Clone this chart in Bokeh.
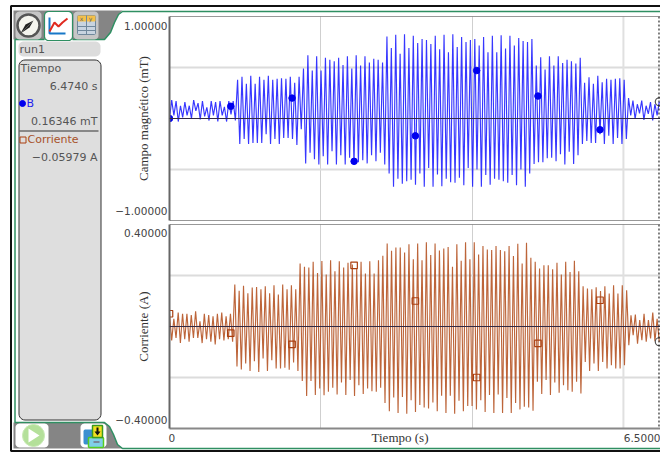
import numpy as np
from bokeh.embed import file_html
from bokeh.resources import INLINE
from bokeh.plotting import figure
from bokeh.models import FixedTicker, Span, Range1d
from bokeh.core.properties import value

# ---------- data ----------
B_values = [0.0,
 .18,.03,.17,-.03,.125,.01,.16,.03,.125,0,.18,.075,.15,-.01,.17,.02,.11,-.02,.17,.03,.16,-.03,.17,.03,.115,-.03,.17,.04,.17,-.02,
 .38,-.25,.41,-.20,.34,-.25,.42,-.24,.34,-.24,.41,-.24,.38,-.155,.42,-.25,.38,-.20,.39,-.25,.395,-.19,.39,-.19,.41,-.20,.35,-.26,.41,-.105,
 .49,-.44,.62,-.335,.47,-.40,.61,-.45,.47,-.37,.595,-.45,.575,-.32,.56,-.45,.595,-.36,.525,-.45,.61,-.385,.49,-.45,.62,-.43,.52,-.41,.61,-.44,.55,-.36,.585,-.42,.575,-.335,.55,-.45,
 .805,-.54,.69,-.67,.82,-.59,.635,-.64,.825,-.615,.69,-.60,.81,-.65,.74,-.54,.78,-.67,.77,-.485,.73,-.67,.81,-.55,.68,-.665,.82,-.59,.65,-.625,.825,-.63,.70,-.58,.80,-.655,.75,-.485,.77,-.67,.78,-.50,.715,-.67,.80,-.555,.65,-.65,.81,-.59,.65,-.60,.815,-.615,.685,-.63,.81,-.555,.715,-.655,.79,-.50,.76,-.67,.75,-.54,.78,-.445,
 .52,-.43,.60,-.43,.48,-.39,.61,-.385,.52,-.42,.61,-.35,.545,-.45,.575,-.325,.56,-.445,.54,-.36,.595,-.25,
 .35,-.22,.405,-.24,.34,-.24,.42,-.155,.355,-.25,.39,-.17,.38,-.25,.39,-.19,.395,-.25,.38,-.20,
 .20,.03,.175,-.005,.14,.05,.175,-.015,.125,.045,.16,-.02,.14,.03,.16346]

I_values = [.05,-.055,.03,-.045,.055,-.065,.05,-.05,.05,-.06,.045,-.045,.06,-.045,.02,-.065,.05,-.05,.045,-.06,.04,-.07,.05,-.05,.055,-.055,.04,-.05,.05,-.06,
 .165,-.157,.14,-.169,.16,-.145,.13,-.174,.153,-.136,.155,-.178,.146,-.125,.158,-.174,.13,-.132,.162,-.165,.125,-.165,.165,-.162,.146,-.17,.162,-.141,.146,-.174,
 .247,-.214,.234,-.273,.231,-.214,.254,-.269,.21,-.243,.257,-.27,
 .204,-.256,.26,-.24,.217,-.267,.256,-.22,.231,-.269,.25,-.21,.243,-.273,.227,-.23,.254,-.265,.208,-.243,.256,-.254,.208,-.256,.26,-.24,.277,-.30,
 .325,-.332,.297,-.278,.31,-.339,.31,-.276,.29,-.342,.323,-.289,.264,-.335,.325,-.308,.26,-.318,.33,-.322,.28,-.298,.325,-.332,.298,-.272,.306,-.339,.312,-.272,.234,-.342,.323,-.291,.258,-.332,.33,-.312,.264,-.312,.33,-.325,.282,-.289,.316,-.335,.302,-.269,.30,-.339,
 .316,-.267,.30,-.339,.295,-.28,.316,-.339,.276,-.30,.324,-.325,.247,-.315,.328,-.318,.27,-.33,
 .254,-.217,.227,-.265,.24,-.21,.24,-.269,.224,-.22,.25,-.26,.204,-.23,.254,-.25,.214,-.256,.258,-.217,.217,-.263,
 .158,-.139,.149,-.174,.146,-.145,.154,-.174,.139,-.139,.158,-.165,.129,-.152,.162,-.165,.129,-.165,.162,-.152,.142,-.073,
 .044,-.034,.047,-.067,.025,-.054,.05,-.06,.025,-.047,.055,-.058,.03,-.0598]

marker_t = [0, .81, 1.62, 2.44, 3.25, 4.06, 4.87, 5.69]
marker_B = [0, .12, .20, -.42, -.17, .47, .22, -.11]
marker_I = [.05, -.026, -.07, .24, .10, -.20, -.066, .103]
last_t = 6.474
last_B = 0.16346
last_I = -0.05979
T_MAX = 6.49

y_ticks_B = [-0.905, 0.905]
y_labels_B = {-0.905: "\u22121.00000", 0.905: "1.00000"}
y_ticks_I = [-0.368, 0.368]
y_labels_I = {-0.368: "\u22120.40000", 0.368: "0.40000"}
x_ticks = [0.03, 6.27]
x_labels = {0.03: "0", 6.27: "6.5000"}

BLUE = "#1414ff"
BROWN = "#b24a18"
GREEN = "#2f8f62"
SANS = "DejaVu Sans"
SERIF = "Liberation Serif"


def place(p, left, top, width, height):
    p.styles = {"position": "absolute", "left": f"{left}px", "top": f"{top}px",
                "width": f"{width}px", "height": f"{height}px"}


def chart(top_px, height, values, markers, last, ymax, ticks, labels, ylabel, color, bottom_pad, mtype):
    p = figure(width=581, height=height, output_backend="svg", toolbar_location=None,
               x_range=Range1d(0, T_MAX), y_range=Range1d(-ymax, ymax),
               min_border_left=90, min_border_right=0, min_border_top=5, min_border_bottom=bottom_pad,
               background_fill_color=None, border_fill_color=None, outline_line_color=None)
    place(p, 79, top_px, 581, height)
    for ax in (p.xaxis[0], p.yaxis[0]):
        ax.major_tick_line_color = None
        ax.minor_tick_line_color = None
    yax = p.yaxis[0]
    yax.ticker = FixedTicker(ticks=ticks)
    yax.major_label_overrides = labels
    yax.major_label_standoff = -4
    yax.major_label_text_font = SANS
    yax.major_label_text_font_size = "10.5px"
    yax.major_label_text_color = "#444444"
    yax.axis_line_color = "#666666"
    yax.axis_line_width = 2
    yax.axis_label = ylabel
    yax.axis_label_text_font = SERIF
    yax.axis_label_text_font_size = "13px"
    yax.axis_label_text_font_style = "normal"
    yax.axis_label_text_color = "#333333"
    yax.axis_label_standoff = -39
    p.xgrid.ticker = FixedTicker(ticks=[2, 4])
    p.ygrid.ticker = FixedTicker(ticks=[-ymax / 2, ymax / 2])
    p.xgrid.grid_line_color = "#cfcfcf"
    p.ygrid.grid_line_color = "#dcdcdc"
    p.ygrid.grid_line_width = 2
    p.add_layout(Span(location=6, dimension="height", line_color="#e0e0e0", line_width=2, level="underlay"))
    t = np.arange(len(values)) * last_t / (len(values) - 1)
    p.line(t, values, line_color=color, line_width=1.15, line_alpha=0.85)
    p.add_layout(Span(location=0, dimension="width", line_color="#332a44", line_width=1.2))
    p.add_layout(Span(location=ymax, dimension="width", line_color="#333333", line_width=1))
    p.add_layout(Span(location=last_t - 0.004, dimension="height", line_color="#000000", line_width=1, line_dash="2 2"))
    if mtype == "circle":
        p.scatter(marker_t, markers, marker="circle", size=6.5, fill_color="#0000ee", line_color="#0000ee")
    else:
        p.scatter(marker_t, markers, marker="square", size=6.5, fill_color=None, line_color="#aa3f10", line_width=1.2)
    p.scatter([last_t], [last], marker="circle", size=8, fill_color=None, line_color="#555555", line_width=1.2)
    return p


top = chart(11, 210, B_values, marker_B, last_B, 1.0, y_ticks_B, y_labels_B,
            "Campo magn\u00e9tico (mT)", BLUE, 1, "circle")
top.xaxis.visible = False
top.add_layout(Span(location=-1.0, dimension="width", line_color="#333333", line_width=1))

bot = chart(219, 234, I_values, marker_I, last_I, 0.4, y_ticks_I, y_labels_I,
            "Corriente (A)", BROWN, 25, "square")
xax = bot.xaxis[0]
xax.ticker = FixedTicker(ticks=x_ticks)
xax.major_label_overrides = x_labels
xax.major_label_standoff = -1
xax.major_label_text_font = SANS
xax.major_label_text_font_size = "10.5px"
xax.major_label_text_color = "#444444"
xax.axis_line_color = "#888888"
xax.axis_line_width = 2

# ---------- window chrome, in page pixels ----------
ch = figure(width=660, height=453, output_backend="svg", toolbar_location=None,
            x_range=Range1d(0, 660), y_range=Range1d(453, 0),
            x_axis_location=None, y_axis_location=None,
            min_border=0, outline_line_color=None, background_fill_color="white")
place(ch, 0, 0, 660, 453)
ch.grid.visible = False


def rr(x0, y0, x1, y1, r):
    a = np.linspace(0, np.pi / 2, 7)
    xs = np.concatenate([x1 - r + r * np.sin(a), x1 - r + r * np.cos(a), x0 + r - r * np.sin(a), x0 + r - r * np.cos(a)])
    ys = np.concatenate([y0 + r - r * np.cos(a), y1 - r + r * np.sin(a), y1 - r + r * np.cos(a), y0 + r - r * np.sin(a)])
    return xs, ys


def box(x0, y0, x1, y1, r=3, fill="#cccccc", line=None, lw=1):
    xs, ys = rr(x0, y0, x1, y1, r)
    ch.patch(xs, ys, fill_color=fill, line_color=line, line_width=lw)


def txt(x, y, s, color="#555555", size="11px", align="left", font=SANS):
    ch.text([x], [y], text=[s], text_color=color, text_font=value(font), text_font_size=size,
            text_align=align, text_baseline="middle")


txt(399.5, 437, "Tiempo (s)", "#333333", "13px", "center", SERIF)
# outer frame
ch.line([670, 10.5, 10.5, 670], [5.5, 5.5, 450.5, 450.5], line_color="#111111", line_width=2)
# tab bar and bottom tool bar
ch.patch([13, 122, 118, 114, 110, 104, 13], [10, 10, 14, 22, 32, 39, 39], fill_color="#858585", line_color=None)
ch.patch([13, 104, 109, 113, 117, 122, 13], [422, 422, 426, 434, 444, 448, 448], fill_color="#858585", line_color=None)
ch.line([670, 122, 118, 114, 110, 104, 72], [11, 11, 14, 22, 32, 39, 39], line_color=GREEN, line_width=1.5)
ch.line([44, 14.5, 14.5, 104, 109, 113, 117, 122, 670], [39, 39, 422, 422, 426, 434, 444, 448, 448], line_color=GREEN, line_width=1.5)
# tabs
box(15, 11, 41, 39, 4, "#c6c6c6")
box(73, 11, 98, 39, 4, "#c6c6c6")
box(44, 11, 72, 40, 4, "#ffffff", GREEN, 1.2)
# gauge icon
ch.scatter([28], [25], marker="circle", size=22, fill_color="#f4f4ee", line_color="#555555", line_width=2.5)
ch.patch([20, 33, 29], [33, 20, 27], fill_color="#222222", line_color=None)
ch.patch([20, 33, 25], [33, 20, 24], fill_color="#222222", line_color=None)
# graph icon
ch.line([49, 49, 65], [17, 33, 33], line_color="#1878c8", line_width=2)
ch.line([49, 54, 58, 62, 67], [31, 22, 26, 22, 18], line_color="#e02a20", line_width=2)
# table icon
box(77, 15, 95, 34, 1, "#c8d4e0", "#70889c", 1)
box(77, 15, 95, 21, 1, "#f5c04a", None)
ch.line([86, 86], [15, 34], line_color="#70889c", line_width=1)
ch.line([77, 95], [26, 26], line_color="#70889c", line_width=1)
ch.line([77, 95], [30, 30], line_color="#70889c", line_width=1)
txt(81, 18, "x", "#666666", "6px", "center")
txt(90, 18, "y", "#666666", "6px", "center")
# side panel
box(18, 41, 100, 56, 5, "#dcdcdc")
box(18.5, 59.5, 100.5, 419.5, 6, "#dedede", "#333333", 1)
txt(19, 49, "run1")
txt(20, 68, "Tiempo")
txt(97, 86, "6.4740 s", align="right")
ch.scatter([22], [103], marker="circle", size=6, fill_color="#0000ee", line_color="#0000ee")
txt(26, 103, "B", "#2222ee")
txt(97, 121, "0.16346 mT", align="right")
ch.line([19, 98], [130.5, 130.5], line_color="#333333", line_width=1)
ch.scatter([22.5], [139.5], marker="square", size=6, fill_color=None, line_color="#aa3f10")
txt(27, 139, "Corriente", "#a8522a")
txt(97, 157, "\u22120.05979 A", align="right")
# tool buttons
box(15, 423, 48, 447, 4, "#ffffff")
ch.scatter([33], [435], marker="circle", size=22, fill_color="#b4e09a", line_color="#c8eab4")
ch.patch([28, 28, 39], [428, 442, 435], fill_color="#ffffff", line_color=None)
box(80, 423, 106, 447, 4, "#ffffff")
box(83, 429, 98, 444, 2, "#3a8fd0")
box(88, 437, 103, 447, 1, "#7fd0e8", "#55cc22", 1.5)
box(92, 425, 102, 437, 0.5, "#f2e020", "#3a9a20", 1.5)
ch.patch([94, 100, 97], [431, 431, 435], fill_color="#111111", line_color=None)
ch.line([97, 97], [427, 432], line_color="#111111", line_width=2)
ch.line([93, 99], [441.5, 441.5], line_color="#778899", line_width=2)

open("out.html", "w").write(file_html([ch, top, bot], INLINE))
